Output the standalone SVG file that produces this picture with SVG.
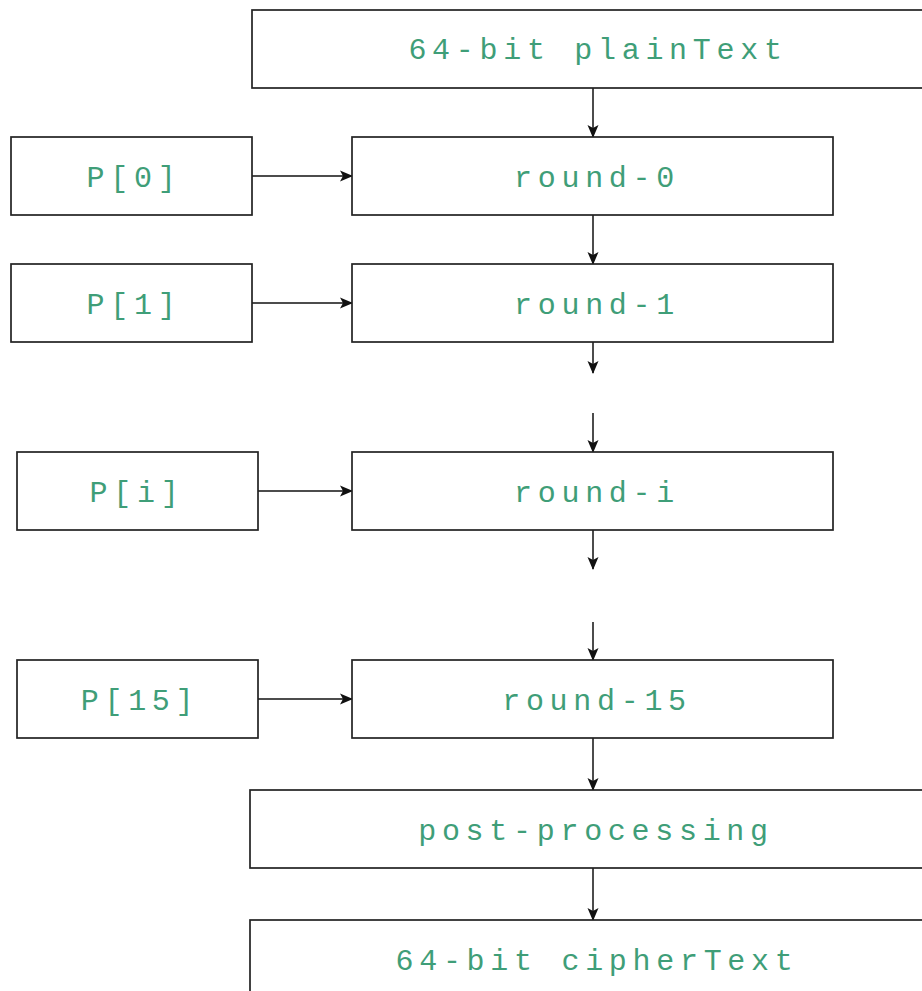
<svg xmlns="http://www.w3.org/2000/svg" width="922" height="991" viewBox="0 0 922 991">
<style>
.box{fill:#fff;stroke:#222;stroke-width:1.7}
.t{font-family:"Liberation Mono","DejaVu Sans Mono",monospace;font-size:30px;fill:#3f9e78;text-anchor:middle;letter-spacing:5.7px}
.c{stroke:#111;stroke-width:1.5;fill:none;marker-end:url(#ah)}
</style>
<defs>
<marker id="ah" markerWidth="13" markerHeight="12" refX="12" refY="6" orient="auto" markerUnits="userSpaceOnUse">
<path d="M0,0.5 L13,6 L0,11.5 L3,6 Z" fill="#111"/>
</marker>
</defs>
<rect width="922" height="991" fill="#fff"/>
<g id="connectors">
<line class="c" x1="593" y1="88" x2="593" y2="137"/>
<line class="c" x1="593" y1="215" x2="593" y2="264"/>
<line class="c" x1="593" y1="342" x2="593" y2="373"/>
<line class="c" x1="593" y1="413" x2="593" y2="452"/>
<line class="c" x1="593" y1="530" x2="593" y2="569"/>
<line class="c" x1="593" y1="622" x2="593" y2="660"/>
<line class="c" x1="593" y1="738" x2="593" y2="790"/>
<line class="c" x1="593" y1="868" x2="593" y2="920"/>
<line class="c" x1="252" y1="176" x2="352" y2="176"/>
<line class="c" x1="252" y1="303" x2="352" y2="303"/>
<line class="c" x1="258" y1="491" x2="352" y2="491"/>
<line class="c" x1="258" y1="699" x2="352" y2="699"/>
</g>
<g id="plaintext"><rect class="box" x="252" y="10" width="700" height="78"/><text class="t" x="598" y="59">64-bit plainText</text></g>
<g id="p0"><rect class="box" x="11" y="137" width="241" height="78"/><text class="t" x="134" y="187">P[0]</text></g>
<g id="round0"><rect class="box" x="352" y="137" width="481" height="78"/><text class="t" x="597" y="187">round-0</text></g>
<g id="p1"><rect class="box" x="11" y="264" width="241" height="78"/><text class="t" x="134" y="314">P[1]</text></g>
<g id="round1"><rect class="box" x="352" y="264" width="481" height="78"/><text class="t" x="597" y="314">round-1</text></g>
<g id="pi"><rect class="box" x="17" y="452" width="241" height="78"/><text class="t" x="137" y="502">P[i]</text></g>
<g id="roundi"><rect class="box" x="352" y="452" width="481" height="78"/><text class="t" x="597" y="502">round-i</text></g>
<g id="p15"><rect class="box" x="17" y="660" width="241" height="78"/><text class="t" x="140" y="710">P[15]</text></g>
<g id="round15"><rect class="box" x="352" y="660" width="481" height="78"/><text class="t" x="597" y="710">round-15</text></g>
<g id="postprocessing"><rect class="box" x="250" y="790" width="700" height="78"/><text class="t" x="596" y="840">post-processing</text></g>
<g id="ciphertext"><rect class="box" x="250" y="920" width="700" height="100"/><text class="t" x="597" y="970">64-bit cipherText</text></g>
</svg>
